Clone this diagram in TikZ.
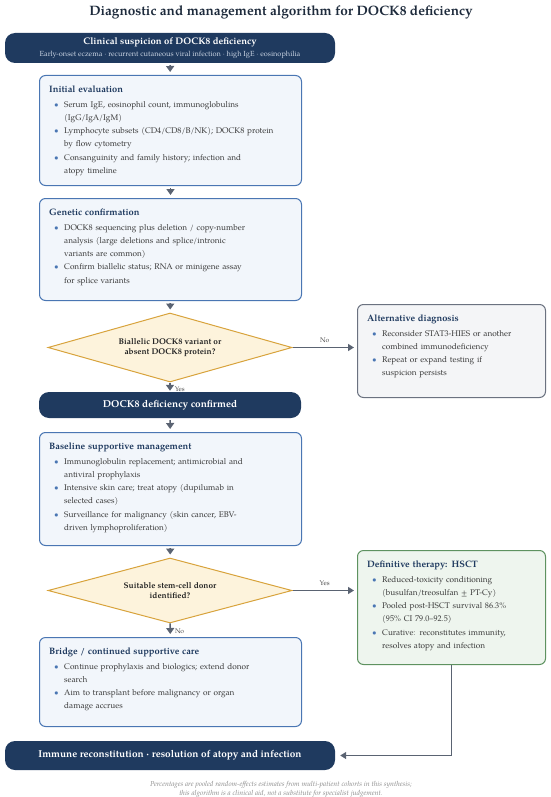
\documentclass[tikz,border=0pt]{standalone}
\usepackage{fontspec}
\setmainfont{texgyrepagella}[Extension=.otf, UprightFont=*-regular, BoldFont=*-bold, ItalicFont=*-italic, BoldItalicFont=*-bolditalic]
\usetikzlibrary{shapes.geometric,arrows.meta}

\definecolor{navy}{HTML}{1F3A5F}
\definecolor{titlec}{HTML}{1E2B3C}
\definecolor{subc}{HTML}{C9D4E3}
\definecolor{boxblue}{HTML}{4A76B3}
\definecolor{boxfill}{HTML}{F2F6FB}
\definecolor{bulc}{HTML}{4A76B3}
\definecolor{textc}{HTML}{3A3A3A}
\definecolor{altbord}{HTML}{6B7280}
\definecolor{altfill}{HTML}{F4F5F7}
\definecolor{curebord}{HTML}{5E9260}
\definecolor{curefill}{HTML}{EEF5EE}
\definecolor{dmdbord}{HTML}{D8A33C}
\definecolor{dmdfill}{HTML}{FDF3DC}
\definecolor{arrowc}{HTML}{5A6372}
\definecolor{footc}{HTML}{8A8A8A}

% heading and bullet lines inside the boxes
\newcommand\boxhead[1]{{\fontsize{9.3}{13.2}\selectfont\bfseries\color{navy}#1\par}\vspace{1.2pt}}
\newcommand\boxitem[1]{{\leftskip=15pt\noindent\llap{\textcolor{bulc}{\textbullet}\hspace{5.5pt}}#1\par}}

\tikzset{
  navybox/.style={fill=navy, rounded corners=10pt, text=white, align=center, inner sep=0pt,
    font=\fontsize{9.5}{12}\selectfont},
  stepbox/.style={draw=boxblue, fill=boxfill, line width=1pt, rounded corners=6pt,
    anchor=north west, inner sep=0pt, minimum width=262pt},
  altbox/.style={stepbox, draw=altbord, fill=altfill, minimum width=188pt},
  curebox/.style={stepbox, draw=curebord, fill=curefill, minimum width=188pt},
  decision/.style={diamond, draw=dmdbord, fill=dmdfill, line width=1pt, inner sep=0pt,
    minimum width=244pt},
  qtext/.style={align=center, inner sep=0pt, text=black!85, font=\fontsize{8.3}{10}\selectfont\bfseries},
  txt/.style={anchor=north west, inner sep=0pt, text width=#1, align=left, text=textc,
    font=\fontsize{8.2}{13.2}\selectfont},
  txt/.default=245pt,
  flow/.style={draw=arrowc, line width=1.6pt, -{Triangle[width=8pt,length=6pt]},
    shorten <=2pt, shorten >=3pt},
  side/.style={draw=arrowc, line width=1.3pt, -{Triangle[width=7pt,length=6pt]},
    shorten >=3pt},
  lbl/.style={text=black!70, font=\fontsize{6.8}{8}\selectfont, inner sep=1pt}
}

\begin{document}
\begin{tikzpicture}[x=1pt,y=-1pt]
  \useasboundingbox (0,0) rectangle (550,797);

  \node[text=titlec, font=\fontsize{13.6}{15}\selectfont\bfseries] (title) at (281,12)
    {Diagnostic and management algorithm for DOCK8 deficiency};

  % left column
  \node[navybox, minimum width=330pt, minimum height=30pt] (sus) at (170,48)
    {\textbf{Clinical suspicion of DOCK8 deficiency}\\
     {\fontsize{7.4}{9}\selectfont\color{subc}Early-onset eczema · recurrent cutaneous viral infection · high IgE · eosinophilia}};

  \node[stepbox, minimum height=110pt] (ini) at (39,75) {};
  \node[txt] (ini-t) at ([shift={(10,11)}]ini.north west)
    {\boxhead{Initial evaluation}
     \boxitem{Serum IgE, eosinophil count, immunoglobulins\newline (IgG/IgA/IgM)}
     \boxitem{Lymphocyte subsets (CD4/CD8/B/NK); DOCK8 protein\newline by flow cytometry}
     \boxitem{Consanguinity and family history; infection and\newline atopy timeline}};

  \node[stepbox, minimum height=102pt] (gen) at (39,198) {};
  \node[txt] (gen-t) at ([shift={(10,11)}]gen.north west)
    {\boxhead{Genetic confirmation}
     \boxitem{DOCK8 sequencing plus deletion / copy-number\newline analysis (large deletions and splice/intronic\newline variants are common)}
     \boxitem{Confirm biallelic status; RNA or minigene assay\newline for splice variants}};

  \node[decision, minimum height=69pt] (q1) at (170,347.5) {};
  \node[qtext] (q1-t) at (q1) {Biallelic DOCK8 variant or\\absent DOCK8 protein?};

  \node[navybox, minimum width=262pt, minimum height=26pt, font=\fontsize{10}{12}\selectfont\bfseries]
    (conf) at (170,405) {DOCK8 deficiency confirmed};

  \node[stepbox, minimum height=113pt] (base) at (39,432) {};
  \node[txt] (base-t) at ([shift={(10,11)}]base.north west)
    {\boxhead{Baseline supportive management}
     \boxitem{Immunoglobulin replacement; antimicrobial and\newline antiviral prophylaxis}
     \boxitem{Intensive skin care; treat atopy (dupilumab in\newline selected cases)}
     \boxitem{Surveillance for malignancy (skin cancer, EBV-\newline driven lymphoproliferation)}};

  \node[decision, minimum height=65pt] (q2) at (170,590.5) {};
  \node[qtext] (q2-t) at (q2) {Suitable stem-cell donor\\identified?};

  \node[stepbox, minimum height=89pt] (bri) at (39,637) {};
  \node[txt] (bri-t) at ([shift={(10,11)}]bri.north west)
    {\boxhead{Bridge / continued supportive care}
     \boxitem{Continue prophylaxis and biologics; extend donor\newline search}
     \boxitem{Aim to transplant before malignancy or organ\newline damage accrues}};

  \node[navybox, minimum width=330pt, minimum height=29pt, font=\fontsize{10}{12}\selectfont\bfseries]
    (fin) at (170,755.5) {Immune reconstitution · resolution of atopy and infection};

  % right column
  \node[altbox, minimum height=93pt] (alt) at (357,304) {};
  \node[txt=170pt] (alt-t) at ([shift={(10,11)}]alt.north west)
    {\boxhead{Alternative diagnosis}
     \boxitem{Reconsider STAT3-HIES or another\newline combined immunodeficiency}
     \boxitem{Repeat or expand testing if\newline suspicion persists}};

  \node[curebox, minimum height=114pt] (hsct) at (357,550) {};
  \node[txt=170pt] (hsct-t) at ([shift={(10,11)}]hsct.north west)
    {\boxhead{Definitive therapy: HSCT}
     \boxitem{Reduced-toxicity conditioning\newline (busulfan/treosulfan ± PT-Cy)}
     \boxitem{Pooled post-HSCT survival 86.3\%\newline (95\% CI 79.0–92.5)}
     \boxitem{Curative: reconstitutes immunity,\newline resolves atopy and infection}};

  \node[align=center, text=footc, font=\fontsize{7.1}{9}\selectfont\itshape] (foot) at (281,789.5)
    {Percentages are pooled random-effects estimates from multi-patient cohorts in this synthesis;\\
     this algorithm is a clinical aid, not a substitute for specialist judgement.};

  % connectors
  \draw[flow] (sus) -- (ini);
  \draw[flow] (ini) -- (gen);
  \draw[flow] (gen) -- (q1);
  \draw[flow, shorten <=0pt, shorten >=1pt] (q1) -- (conf) node[lbl, right=3pt, pos=0.75] {Yes};
  \draw[flow] (conf) -- (base);
  \draw[flow] (base) -- (q2);
  \draw[flow, shorten <=0pt] (q2) -- (bri) node[lbl, right=3pt, pos=0.55] {No};
  \draw[side] (q1.east) -- (q1.east -| alt.west) node[lbl, above=3pt, pos=0.5] {No};
  \draw[side] (q2.east) -- (q2.east -| hsct.west) node[lbl, above=3pt, pos=0.5] {Yes};
  \draw[side, shorten >=5pt] (hsct.south) |- (fin.east);
\end{tikzpicture}
\end{document}
